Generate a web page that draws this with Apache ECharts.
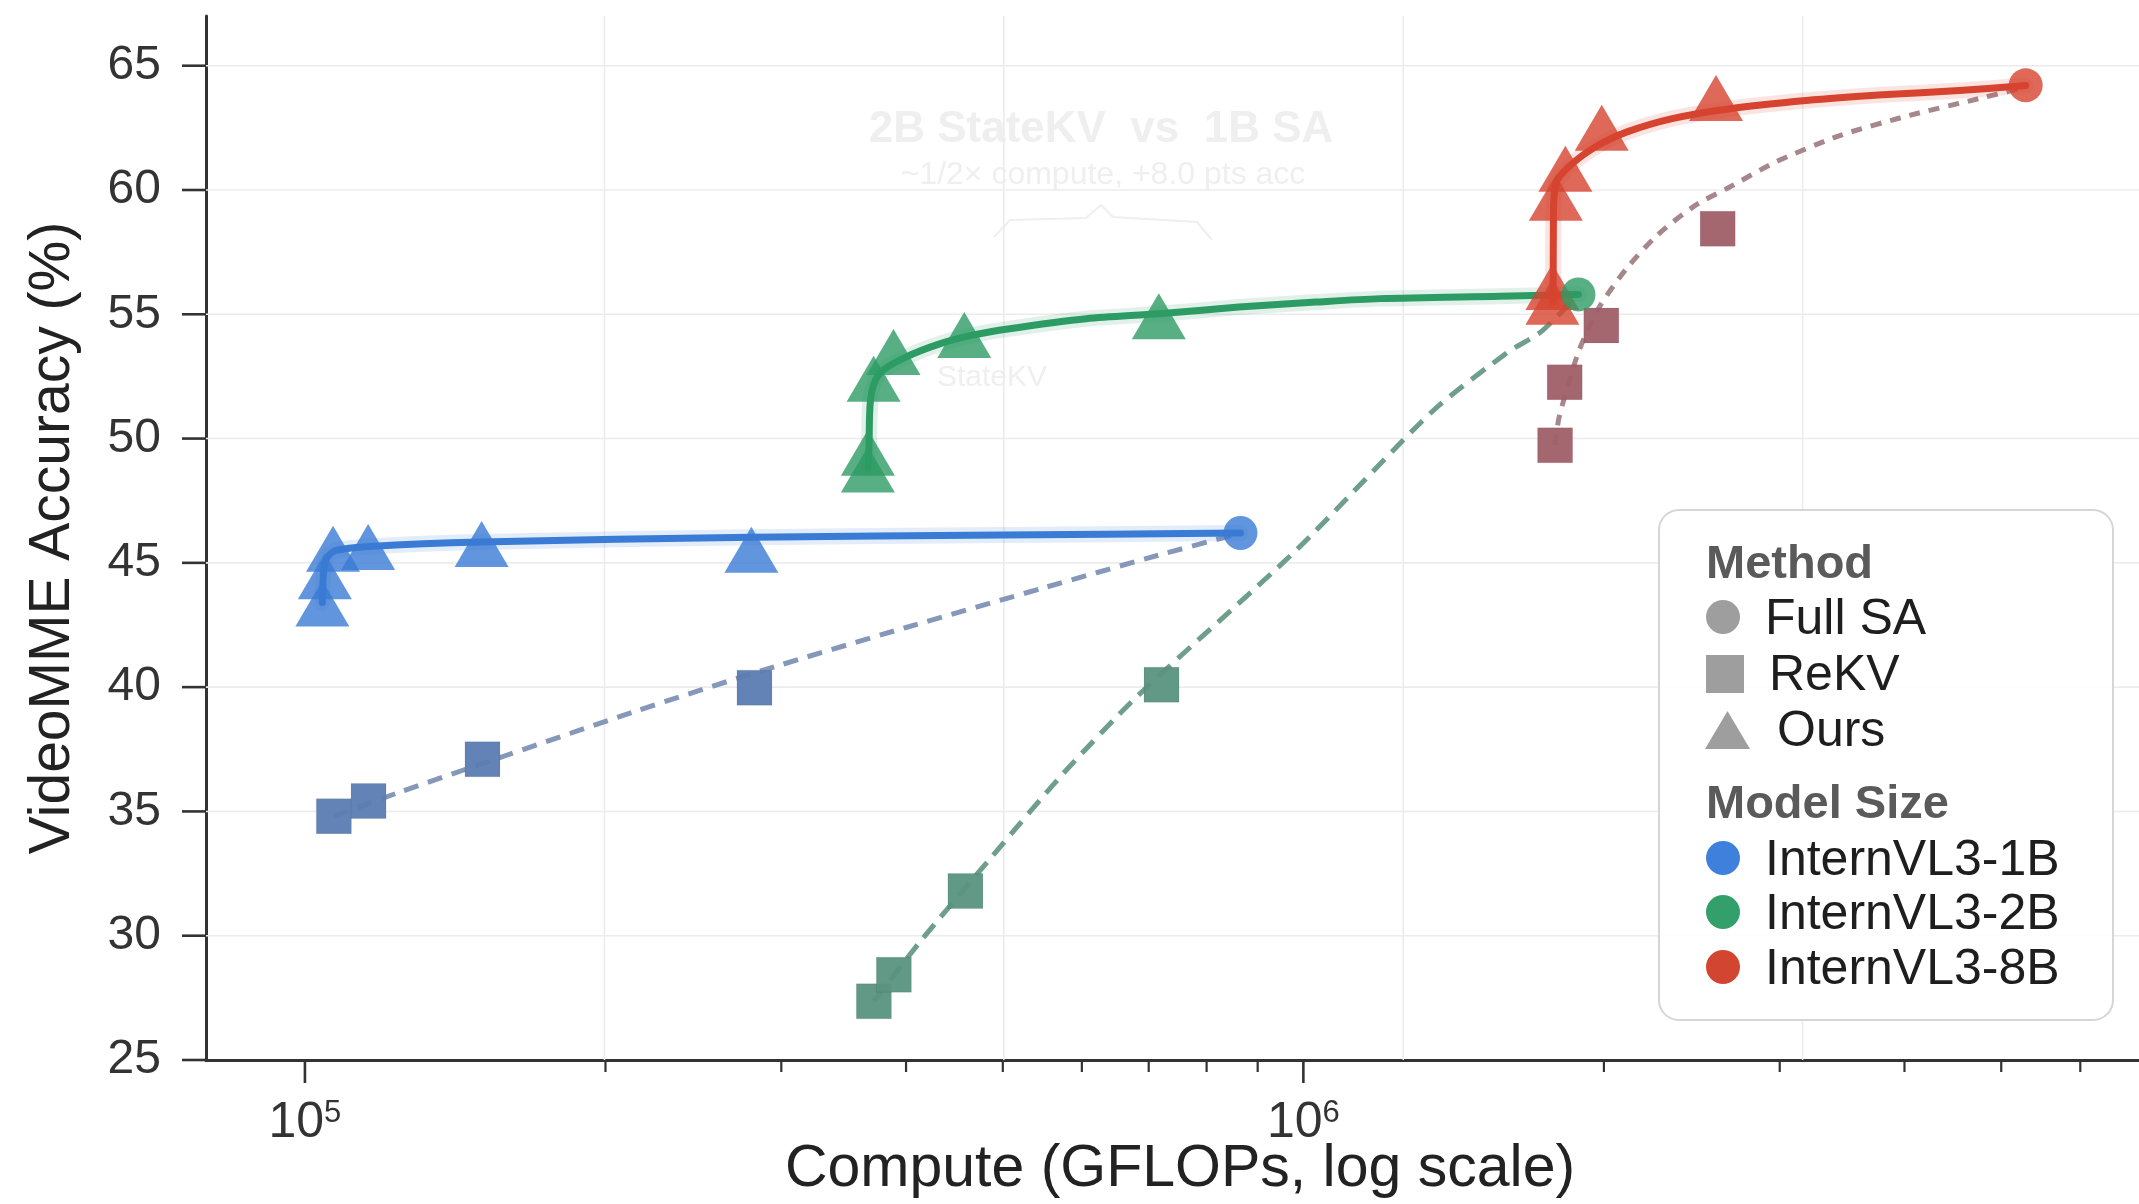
<!DOCTYPE html>
<html><head><meta charset="utf-8">
<script src="https://cdn.jsdelivr.net/npm/echarts@6/dist/echarts.min.js"></script>
<style>html,body{margin:0;padding:0;background:#fff}#c{width:2139px;height:1204px}</style>
</head><body><div id="c"></div>
<script>
const FONT = '"Liberation Sans", Arial, Helvetica, sans-serif';

// ---- axes ----
const xMin = 79600, xMax = 6870000;
const yMin = 25, yMax = 67;
const yTicks = [25, 30, 35, 40, 45, 50, 55, 60, 65];
const xMajorTicks = [1e5, 1e6];
const xMinorTicks = [2e5, 3e5, 4e5, 5e5, 6e5, 7e5, 8e5, 9e5, 2e6, 3e6, 4e6, 5e6, 6e6];
const xGridLines = [199526, 501187, 1258925, 3162278];

// ---- InternVL3-1B ----
const ours1B_x = [1.041e5, 1.047e5, 1.067e5, 1.157e5, 1.503e5, 2.80e5];
const ours1B_y = [43.36, 44.46, 45.57, 45.64, 45.76, 45.53];
const rekv1B_x = [1.069e5, 1.158e5, 1.506e5, 2.82e5];
const rekv1B_y = [34.81, 35.42, 37.10, 39.98];
const full1B = [8.65e5, 46.2];
const oursFit1B_x = [1.041e5, 1.044e5, 1.052e5, 1.075e5, 1.16e5, 1.5e5, 2.8e5, 5.0e5, 8.65e5];
const oursFit1B_y = [43.4, 44.6, 45.2, 45.5, 45.66, 45.84, 46.03, 46.12, 46.2];
const rekvFit1B_x = [1.069e5, 1.245e5, 1.592e5, 2.132e5, 2.877e5, 4.0e5, 5.5e5, 7.0e5, 8.65e5];
const rekvFit1B_y = [34.81, 35.78, 37.26, 39.0, 40.68, 42.4, 44.0, 45.2, 46.2];

// ---- InternVL3-2B ----
const ours2B_x = [3.663e5, 3.663e5, 3.712e5, 3.886e5, 4.575e5, 7.165e5];
const ours2B_y = [48.76, 49.43, 52.41, 53.48, 54.17, 54.92];
const rekv2B_x = [3.714e5, 3.889e5, 4.587e5, 7.21e5];
const rekv2B_y = [27.36, 28.43, 31.80, 40.10];
const full2B = [1.886e6, 55.8];
const oursFit2B_x = [3.663e5, 3.672e5, 3.685e5, 3.761e5, 4.0e5, 4.33e5, 4.65e5, 5.08e5, 6.06e5, 7.165e5, 8.62e5, 1.029e6, 1.193e6, 1.573e6, 1.886e6];
const oursFit2B_y = [48.8, 49.6, 51.54, 52.61, 53.28, 53.82, 54.15, 54.42, 54.82, 55.02, 55.29, 55.49, 55.63, 55.73, 55.8];
const rekvFit2B_x = [3.714e5, 4.13e5, 4.873e5, 5.746e5, 6.832e5, 9.83e5, 1.347e6, 1.603e6, 1.728e6, 1.886e6];
const rekvFit2B_y = [27.36, 29.75, 33.17, 36.52, 39.67, 45.5, 51.1, 53.48, 54.28, 55.8];

// ---- InternVL3-8B ----
const ours8B_x = [1.776e6, 1.776e6, 1.79e6, 1.83e6, 1.99e6, 2.59e6];
const ours8B_y = [55.5, 56.1, 59.69, 60.85, 62.50, 63.70];
const rekv8B_x = [1.787e6, 1.827e6, 1.988e6, 2.60e6];
const rekv8B_y = [49.73, 52.27, 54.55, 58.44];
const full8B = [5.29e6, 64.21];
const oursFit8B_x = [1.779e6, 1.780e6, 1.782e6, 1.796e6, 1.877e6, 1.988e6, 2.106e6, 2.341e6, 2.673e6, 3.188e6, 3.804e6, 4.538e6, 5.29e6];
const oursFit8B_y = [55.5, 58.5, 59.6, 60.4, 61.2, 61.87, 62.33, 62.87, 63.27, 63.6, 63.83, 64.0, 64.2];
const rekvFit8B_x = [1.787e6, 1.804e6, 1.886e6, 1.979e6, 2.106e6, 2.26e6, 2.469e6, 2.673e6, 2.97e6, 3.451e6, 4.047e6, 4.743e6, 5.29e6];
const rekvFit8B_y = [49.73, 50.87, 53.48, 55.29, 56.83, 58.17, 59.38, 60.12, 61.12, 62.2, 63.0, 63.67, 64.14];

const pairs = (xs, ys) => xs.map((x, i) => [x, ys[i]]);

const models = [
  { name: 'InternVL3-1B', color: '#3a7bd5', sq: '#5b7cb2', dash: '#8698ba', dashType: [15, 10],
    ours: pairs(ours1B_x, ours1B_y), rekv: pairs(rekv1B_x, rekv1B_y), full: [full1B],
    oursFit: pairs(oursFit1B_x, oursFit1B_y), rekvFit: pairs(rekvFit1B_x, rekvFit1B_y) },
  { name: 'InternVL3-2B', color: '#2d9b64', sq: '#5a927f', dash: '#6e9e8c', dashType: [17, 10],
    ours: pairs(ours2B_x, ours2B_y), rekv: pairs(rekv2B_x, rekv2B_y), full: [full2B],
    oursFit: pairs(oursFit2B_x, oursFit2B_y), rekvFit: pairs(rekvFit2B_x, rekvFit2B_y) },
  { name: 'InternVL3-8B', color: '#d6432f', sq: '#9f5f68', dash: '#a6888c', dashType: [11, 9],
    ours: pairs(ours8B_x, ours8B_y), rekv: pairs(rekv8B_x, rekv8B_y), full: [full8B],
    oursFit: pairs(oursFit8B_x, oursFit8B_y), rekvFit: pairs(rekvFit8B_x, rekvFit8B_y) }
];

function lineDecor(name, data, fn) {
  return { type: 'custom', name, silent: true, z: 1, clip: false, data,
    renderItem: (params, api) => fn(params.coordSys, api.coord([api.value(0), api.value(1)])) };
}

const series = [];
series.push(lineDecor('hgrid', yTicks.filter(v => v > yMin).map(v => [xMin, v]), (cs, p) => ({
  type: 'line', shape: { x1: cs.x, y1: p[1], x2: cs.x + cs.width, y2: p[1] },
  style: { stroke: '#ececec', lineWidth: 1.6 } })));
series.push(lineDecor('vgrid', xGridLines.map(v => [v, yMin]), (cs, p) => ({
  type: 'line', shape: { x1: p[0], y1: cs.y, x2: p[0], y2: cs.y + cs.height },
  style: { stroke: '#ececec', lineWidth: 1.6 } })));
series.push(lineDecor('xMajor', xMajorTicks.map(v => [v, yMin]), (cs, p) => ({
  type: 'line', shape: { x1: p[0], y1: p[1], x2: p[0], y2: p[1] + 23 },
  style: { stroke: '#333', lineWidth: 2.6 }, z2: 10 })));
series.push(lineDecor('xMinor', xMinorTicks.map(v => [v, yMin]), (cs, p) => ({
  type: 'line', shape: { x1: p[0], y1: p[1], x2: p[0], y2: p[1] + 12 },
  style: { stroke: '#333', lineWidth: 2.2 }, z2: 10 })));
series.push(lineDecor('yTick', yTicks.map(v => [xMin, v]), (cs, p) => ({
  type: 'line', shape: { x1: p[0] - 24, y1: p[1], x2: p[0], y2: p[1] },
  style: { stroke: '#333', lineWidth: 2.6 }, z2: 10 })));

models.forEach(m => {
  series.push({ type: 'line', name: m.name + ' ReKV fit', data: m.rekvFit, showSymbol: false, symbol: 'none',
    smooth: 0.25, z: 2, silent: true,
    lineStyle: { color: m.dash, width: 5, type: m.dashType, cap: 'butt' } });
  series.push({ type: 'scatter', name: m.name + ' ReKV', data: m.rekv, symbol: 'rect', symbolSize: 35, z: 3,
    itemStyle: { color: m.sq, opacity: 0.95, borderColor: 'rgba(0,0,0,0.08)', borderWidth: 1 } });
  series.push({ type: 'line', name: m.name + ' Ours glow', data: m.oursFit, showSymbol: false, symbol: 'none',
    smooth: 0.3, z: 4, silent: true,
    lineStyle: { color: m.color, width: 16, opacity: 0.14, cap: 'round', join: 'round' } });
  series.push({ type: 'line', name: m.name + ' Ours fit', data: m.oursFit, showSymbol: false, symbol: 'none',
    smooth: 0.3, z: 4, silent: true,
    lineStyle: { color: m.color, width: 7, cap: 'round', join: 'round' } });
  series.push({ type: 'scatter', name: m.name + ' Ours', data: m.ours, symbol: 'triangle', symbolSize: [54, 46], z: 5,
    itemStyle: { color: m.color } });
  series.push({ type: 'scatter', name: m.name + ' Full SA', data: m.full, symbol: 'circle', symbolSize: 34, z: 6,
    itemStyle: { color: m.color } });
});

// ---- legend (drawn) ----
const legendTextStyle = { font: '50px ' + FONT, fill: '#1e1e1e', textVerticalAlign: 'middle' };
const headStyle = { font: 'bold 47px ' + FONT, fill: '#5a5a5a', textVerticalAlign: 'middle' };
const methodItems = ['Full SA', 'ReKV', 'Ours'];
const sizeItems = ['InternVL3-1B', 'InternVL3-2B', 'InternVL3-8B'];
const legendGray = '#9e9e9e';
const graphic = [
  { type: 'rect', shape: { x: 1659, y: 510, width: 454, height: 510, r: 20 },
    style: { fill: 'rgba(255,255,255,0.9)', stroke: '#d6d6d6', lineWidth: 2 }, z: 50 },
  { type: 'text', x: 1706, y: 565, style: Object.assign({ text: 'Method' }, headStyle), z: 51 },
  { type: 'circle', shape: { cx: 1723, cy: 617, r: 17 }, style: { fill: legendGray }, z: 51 },
  { type: 'text', x: 1765, y: 620, style: Object.assign({ text: methodItems[0] }, legendTextStyle), z: 51 },
  { type: 'rect', shape: { x: 1706, y: 655, width: 38, height: 38 }, style: { fill: legendGray }, z: 51 },
  { type: 'text', x: 1769, y: 676, style: Object.assign({ text: methodItems[1] }, legendTextStyle), z: 51 },
  { type: 'polygon', shape: { points: [[1705, 749], [1750, 749], [1727.5, 711]] }, style: { fill: legendGray }, z: 51 },
  { type: 'text', x: 1777, y: 732, style: Object.assign({ text: methodItems[2] }, legendTextStyle), z: 51 },
  { type: 'text', x: 1706, y: 805, style: Object.assign({ text: 'Model Size' }, headStyle), z: 51 }
];
const sizeColors = ['#3f80dc', '#33a06c', '#d24631'];
[858, 912, 967].forEach((cy, i) => {
  graphic.push({ type: 'circle', shape: { cx: 1723, cy, r: 17 }, style: { fill: sizeColors[i] }, z: 51 });
  graphic.push({ type: 'text', x: 1765, y: cy + 3, style: Object.assign({ text: sizeItems[i] }, legendTextStyle), z: 51 });
});
// faint ghost annotation present in the reference
const ghost = '#efefef';
graphic.push({ type: 'text', x: 1101, y: 130, style: { text: '2B StateKV  vs  1B SA', font: 'bold 44px ' + FONT, fill: ghost, textAlign: 'center', textVerticalAlign: 'middle' }, z: 0 });
graphic.push({ type: 'text', x: 1103, y: 175, style: { text: '~1/2× compute, +8.0 pts acc', font: '32px ' + FONT, fill: ghost, textAlign: 'center', textVerticalAlign: 'middle' }, z: 0 });
graphic.push({ type: 'polyline', shape: { points: [[994, 237], [1010, 220], [1086, 218], [1101, 205], [1113, 217], [1197, 222], [1212, 240]] }, style: { stroke: ghost, lineWidth: 2, fill: null }, z: 0 });
graphic.push({ type: 'text', x: 992, y: 378, style: { text: 'StateKV', font: '30px ' + FONT, fill: ghost, textAlign: 'center', textVerticalAlign: 'middle' }, z: 0 });

const isPow10 = v => Math.abs(Math.log10(v) - Math.round(Math.log10(v))) < 1e-6;

const option = {
  animation: false,
  backgroundColor: '#ffffff',
  grid: { left: 206, right: 0, top: 16, bottom: 144, containLabel: false, outerBoundsMode: 'none' },
  xAxis: {
    type: 'log', logBase: 10, min: xMin, max: xMax,
    axisLine: { show: true, onZero: false, lineStyle: { color: '#333', width: 3 } },
    axisTick: { show: false }, minorTick: { show: false }, splitLine: { show: false },
    axisLabel: {
      showMinLabel: false, showMaxLabel: false, margin: 38,
      formatter: v => isPow10(v) ? '{b|10}{s|' + Math.round(Math.log10(v)) + '}' : '',
      rich: {
        b: { fontSize: 50, fontFamily: FONT, color: '#333' },
        s: { fontSize: 31, fontFamily: FONT, color: '#333', verticalAlign: 'top' }
      }
    },
    name: 'Compute (GFLOPs, log scale)', nameLocation: 'middle', nameGap: 80, nameMoveOverlap: false,
    nameTextStyle: { fontSize: 59, fontFamily: FONT, color: '#222', padding: [0, 0, 0, 15] }
  },
  yAxis: {
    type: 'value', min: yMin, max: yMax, interval: 5,
    axisLine: { show: true, onZero: false, lineStyle: { color: '#333', width: 3 } },
    axisTick: { show: false }, splitLine: { show: false },
    axisLabel: { showMaxLabel: false, margin: 45, fontSize: 48, fontFamily: FONT, color: '#333' },
    name: 'VideoMME Accuracy (%)', nameLocation: 'middle', nameGap: 124, nameMoveOverlap: false,
    nameTextStyle: { fontSize: 57, fontFamily: FONT, color: '#222' }
  },
  graphic,
  series
};

const chart = echarts.init(document.getElementById('c'), null, { renderer: 'canvas', width: 2139, height: 1204 });
chart.setOption(option);
</script>
</body></html>
